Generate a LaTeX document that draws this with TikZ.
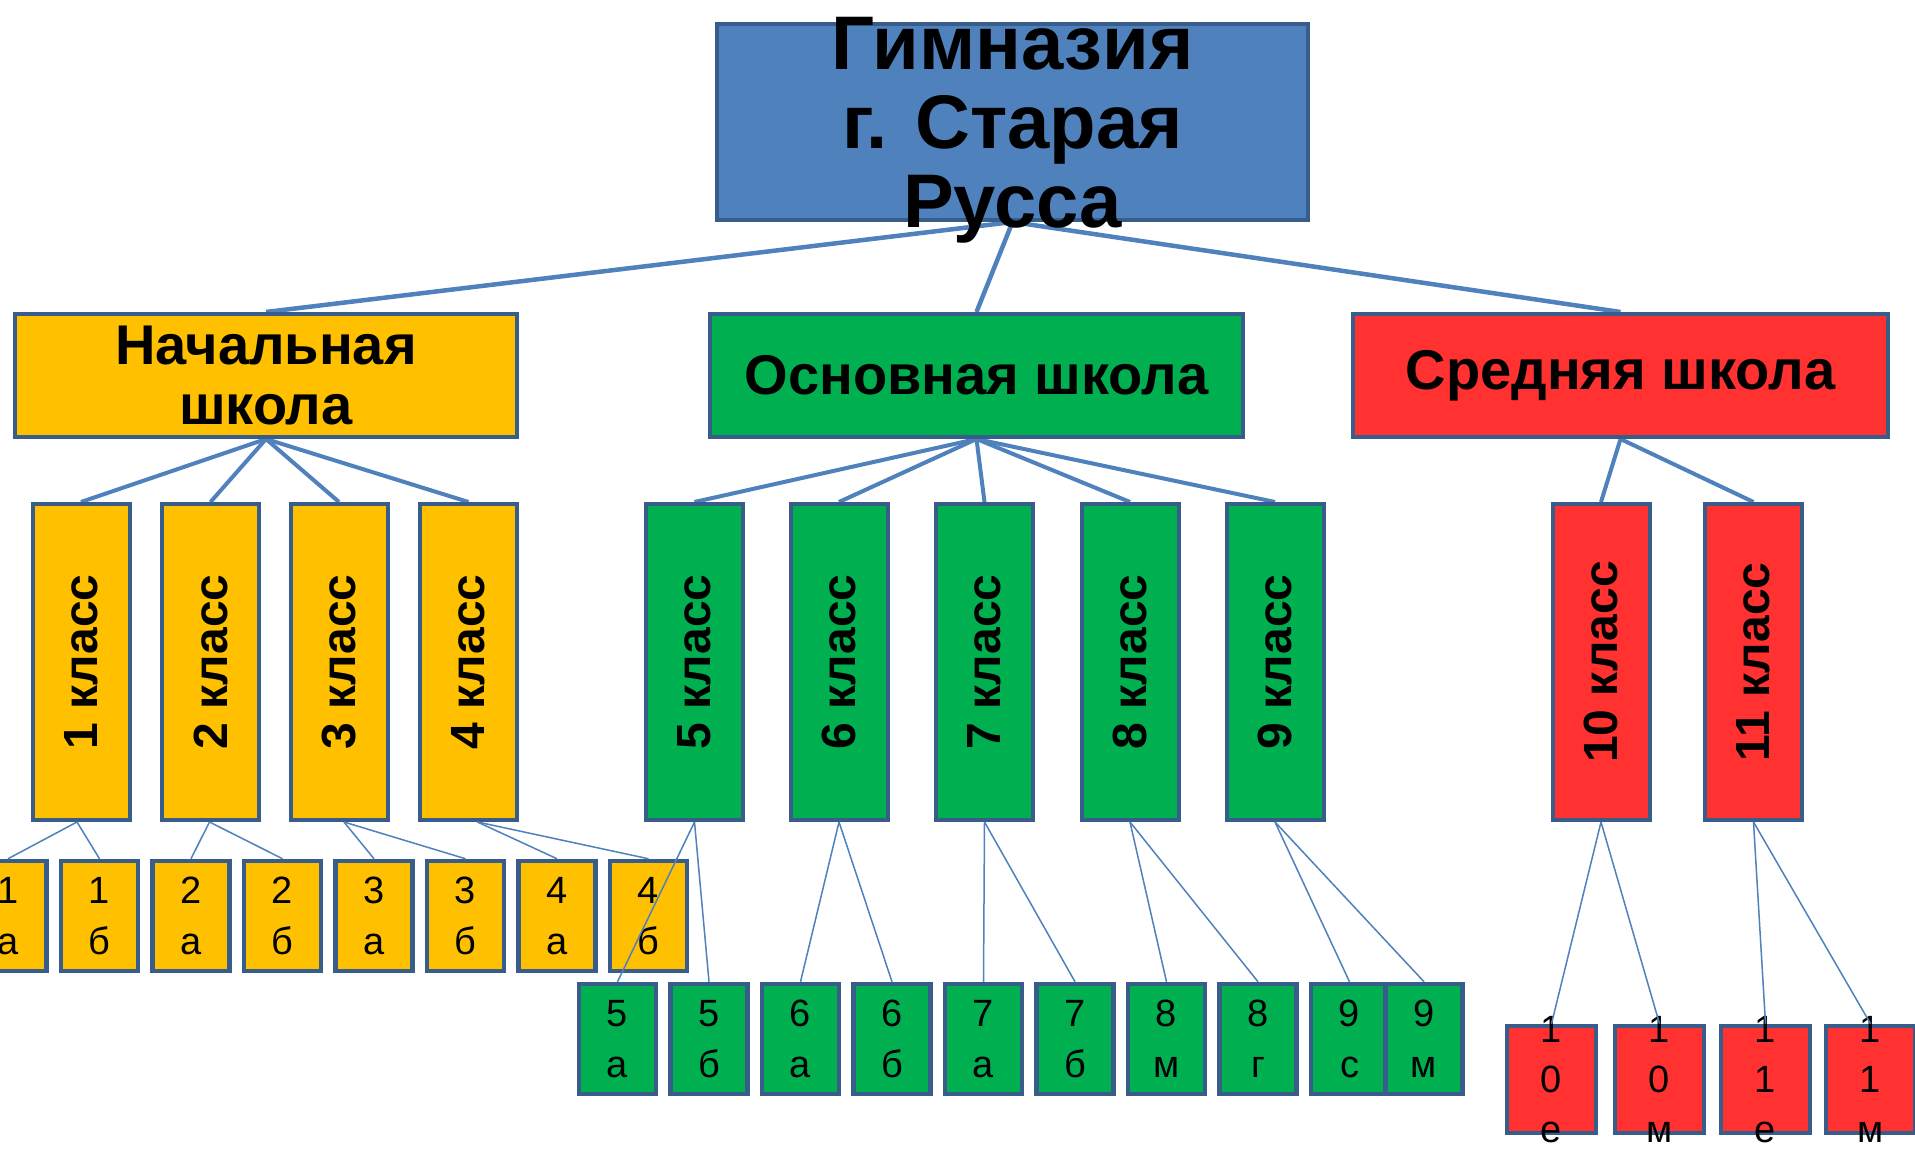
\documentclass[tikz,border=0pt]{standalone}
\usepackage{fontspec}
\setmainfont{Liberation Sans}
\usetikzlibrary{backgrounds}
\definecolor{topblue}{RGB}{79,129,189}
\definecolor{edgeblue}{RGB}{56,93,138}
\definecolor{linkblue}{RGB}{79,129,189}
\definecolor{yel}{RGB}{255,192,0}
\definecolor{grn}{RGB}{0,176,80}
\definecolor{rd}{RGB}{255,49,49}
\tikzset{
  box/.style={draw=edgeblue, line width=4pt, inner sep=0pt, align=center, text=black},
  topbox/.style={box, fill=topblue, minimum width=591pt, minimum height=196pt},
  toptext/.style={inner sep=0pt, align=center, text depth=0pt,
     font=\bfseries\fontsize{76}{79}\selectfont},
  midbox/.style={box, minimum height=123pt, font=\bfseries\fontsize{56}{60}\selectfont},
  clsbox/.style={box, minimum width=97pt, minimum height=316pt},
  clstext/.style={rotate=90, inner sep=0pt, font=\bfseries\fontsize{48}{50}\selectfont},
  subbox/.style={box, line width=4.5pt, minimum width=77pt, minimum height=110pt,
     font=\fontsize{38}{51}\selectfont},
  secbox/.style={box, line width=4.5pt, minimum width=89pt, minimum height=107pt},
  sectext/.style={inner sep=0pt, align=center, font=\fontsize{38}{50}\selectfont},
  thick link/.style={draw=linkblue, line width=4.5pt},
  mid link/.style={draw=linkblue, line width=4pt},
  thin link/.style={draw=linkblue, line width=1.5pt},
}
\begin{document}
\begin{tikzpicture}[x=1pt,y=-1pt]
\useasboundingbox (0,0) rectangle (1915,1151);
\clip (0,0) rectangle (1915,1151);
% top
\node[topbox] (top) at (1012.5,122) {};
\node[toptext] (toptxt) at (top.center) {Гимназия\\г. Старая\\Русса};
% middle level
\node[midbox, fill=yel, minimum width=502pt] (nach) at (266,375.5) {Начальная\\школа};
\node[midbox, fill=grn, minimum width=533pt] (osn) at (976.5,375.5) {Основная школа};
\node[midbox, fill=rd, minimum width=535pt] (sred) at (1620.5,375.5) {Средняя школа};
% classes
\foreach \n/\x/\c in {1/81/yel,2/210.5/yel,3/339/yel,4/468.5/yel,5/694.5/grn,6/839/grn,7/984.5/grn,8/1130/grn,9/1275/grn,10/1601/rd,11/1753.5/rd}{
  \node[clsbox, fill=\c] (k\n) at (\x,662) {};
  \node[clstext] (kt\n) at (k\n.center) {\n{} класс};
}
% primary sub-classes
\foreach \nm/\x/\a/\b in {p1a/8/1/а,p1b/99.5/1/б,p2a/191/2/а,p2b/282.5/2/б,p3a/374/3/а,p3b/465.5/3/б,p4a/557/4/а,p4b/648.5/4/б}{
  \node[subbox, fill=yel] (\nm) at (\x,916) {\a\\\b};
}
% basic sub-classes
\foreach \nm/\x/\a/\b in {b5a/617.5/5/а,b5b/709/5/б,b6a/800.5/6/а,b6b/892/6/б,b7a/983.5/7/а,b7b/1075/7/б,b8m/1166.5/8/м,b8g/1258/8/г,b9s/1349.5/9/с,b9m/1424/9/м}{
  \node[subbox, fill=grn] (\nm) at (\x,1039) {\a\\\b};
}
% secondary sub-classes
\foreach \nm/\x/\a/\b/\c in {s10e/1551.5/1/0/е,s10m/1659.5/1/0/м,s11e/1765.5/1/1/е,s11m/1870.5/1/1/м}{
  \node[secbox, fill=rd] (\nm) at (\x,1079.5) {};
  \node[sectext] (\nm t) at (\nm.center) {\a\\\b\\\c};
}
% connectors behind boxes
\begin{scope}[on background layer]
  \fill[white] (0,0) rectangle (1915,1151);
  \foreach \t in {nach,osn,sred}{ \path[thick link] (top.south) -- (\t.north); }
  \foreach \k in {1,2,3,4}{ \path[mid link] (nach.south) -- (k\k.north); }
  \foreach \k in {5,6,7,8,9}{ \path[mid link] (osn.south) -- (k\k.north); }
  \foreach \k in {10,11}{ \path[mid link] (sred.south) -- (k\k.north); }
\end{scope}
% thin connectors
\foreach \k/\a/\b/\s in {1/p1a/p1b/-4,2/p2a/p2b/-1,3/p3a/p3b/5,4/p4a/p4b/9,5/b5a/b5b/0,6/b6a/b6b/0,7/b7a/b7b/0,8/b8m/b8g/0,9/b9s/b9m/0,10/s10e/s10m/0,11/s11e/s11m/0}{
  \path[thin link] ([xshift=\s pt]k\k.south) -- (\a.north);
  \path[thin link] ([xshift=\s pt]k\k.south) -- (\b.north);
}
\end{tikzpicture}
\end{document}
